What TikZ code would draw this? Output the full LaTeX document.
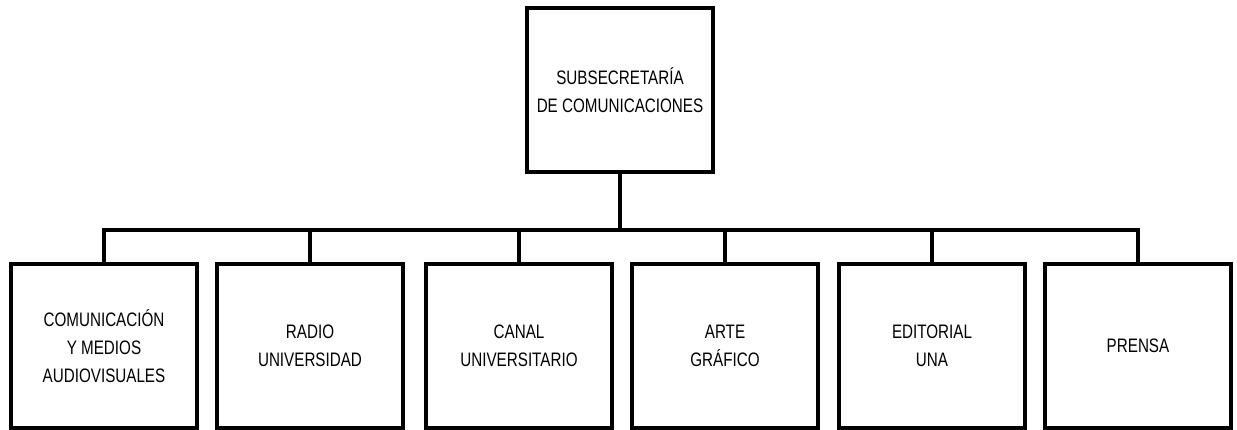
\documentclass[tikz,border=0pt]{standalone}
\usepackage{fontspec}
\newfontfamily\narrowfont[FakeStretch=0.78]{Liberation Sans}
\begin{document}
\begin{tikzpicture}[x=1pt,y=-1pt,
  unit/.style={draw=black, line width=3.5pt, minimum width=186pt, minimum height=164pt,
    align=center, font=\narrowfont\fontsize{19.5}{28}\selectfont, inner sep=0pt},
  link/.style={draw=black, line width=3.5pt}]
\useasboundingbox (0,0) rectangle (1237,430);
\node[unit] (top) at (620,90) {SUBSECRETARÍA\\DE COMUNICACIONES};
\node[unit] (b1) at (104,346) {COMUNICACIÓN\\Y MEDIOS\\AUDIOVISUALES};
\node[unit] (b2) at (310,346) {RADIO\\UNIVERSIDAD};
\node[unit] (b3) at (519,346) {CANAL\\UNIVERSITARIO};
\node[unit] (b4) at (725,346) {ARTE\\GRÁFICO};
\node[unit] (b5) at (932,346) {EDITORIAL\\UNA};
\node[unit] (b6) at (1138,346) {PRENSA};
\coordinate (bus) at (620,230);
\draw[link] (top.south) -- (bus);
\draw[link] (b1.north) |- (bus) -| (b6.north);
\foreach \b in {b2,b3,b4,b5} \draw[link] (\b.north) -- (\b.north |- bus);
\end{tikzpicture}
\end{document}
